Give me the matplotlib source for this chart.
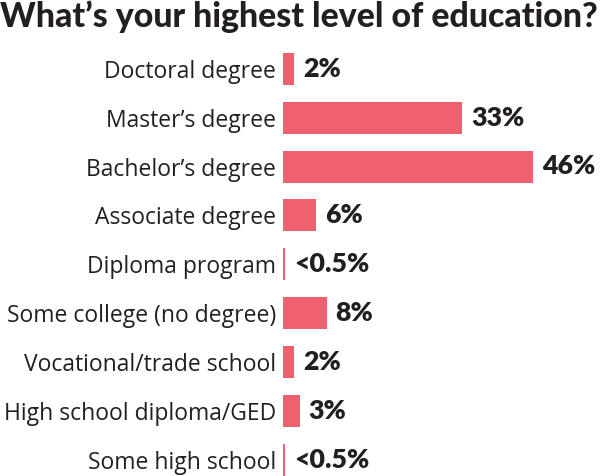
import matplotlib
matplotlib.use("Agg")
import matplotlib.pyplot as plt

categories = ["Doctoral degree", "Master\u2019s degree", "Bachelor\u2019s degree",
              "Associate degree", "Diploma program", "Some college (no degree)",
              "Vocational/trade school", "High school diploma/GED", "Some high school"]
values = [2, 33, 46, 6, 0.4, 8, 2, 3, 0.4]
value_labels = ["2%", "33%", "46%", "6%", "<0.5%", "8%", "2%", "3%", "<0.5%"]
title = "What\u2019s your highest level of education?"

BAR = "#F0606E"
TXT = "#231F20"
plt.rcParams["font.family"] = ["Lato", "DejaVu Sans"]

W, H = 600, 476
fig = plt.figure(figsize=(W / 100, H / 100), dpi=100)
left_px = 283.3
px_per = 5.42
xmax = 55
ax = fig.add_axes([left_px / W, 0, xmax * px_per / W, 456 / H])
y0, dy = 68.7, 48.9
top_d = (20 - y0) / dy
bot_d = (476 - y0) / dy
ys = list(range(len(categories)))
ax.barh(ys, values, height=32 / dy, color=BAR, edgecolor="none")
ax.set_ylim(bot_d, top_d)
ax.set_xlim(0, xmax)
ax.set_yticks(ys)
ax.set_yticklabels(categories, fontsize=16.5, color=TXT, family=["Open Sans", "DejaVu Sans"])
ax.tick_params(axis="y", length=0, pad=5)
ax.set_xticks([])
for s in ax.spines.values():
    s.set_visible(False)
for y, v, lab in zip(ys, values, value_labels):
    ax.annotate(lab, xy=(v, y), xytext=(6.5, 0), textcoords="offset points",
                ha="left", va="center", fontsize=19.3, fontweight="heavy", color=TXT)

fig.text(0 / W, 1 - 0 / H, title, ha="left", va="top", fontsize=24.4,
         fontweight="black", color=TXT)
fig.savefig("out.png", dpi=100)
